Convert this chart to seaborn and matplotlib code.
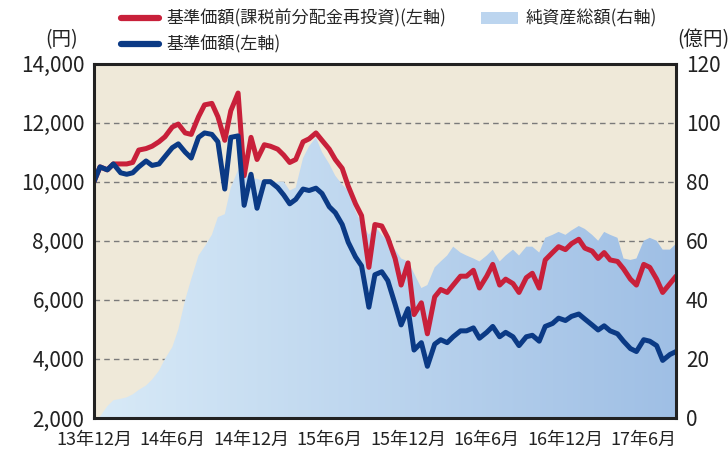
import numpy as np
import pandas as pd
import matplotlib
matplotlib.use("Agg")
import matplotlib.pyplot as plt
import matplotlib.dates as mdates
from matplotlib.colors import LinearSegmentedColormap
from matplotlib.lines import Line2D
from matplotlib.patches import Patch
from matplotlib.ticker import FuncFormatter
import seaborn as sns

# semi-monthly observations (1st and 15th), Dec 2013 - Aug 2017
dates = pd.date_range("2013-12-01", "2017-08-15", freq="SMS")

# 基準価額(課税前分配金再投資), 円
nav_reinvested = [
    10000, 10500, 10400, 10600, 10600, 10600, 10650, 11070, 11120, 11200,
    11350, 11520, 11850, 11950, 11650, 11600, 12200, 12600, 12650, 12200,
    11400, 12400, 13000, 10200, 11500, 10750, 11250, 11200, 11100, 10900,
    10650, 10750, 11350, 11450, 11650, 11400, 11100, 10750, 10450, 9850,
    9250, 8850, 7100, 8550, 8500, 8100, 7400, 6500, 7250, 5500,
    5900, 4850, 6100, 6350, 6250, 6500, 6800, 6800, 7000, 6400,
    6800, 7200, 6500, 6700, 6550, 6250, 6750, 6900, 6400, 7350,
    7600, 7800, 7700, 7900, 8050, 7750, 7650, 7400, 7600, 7350,
    7300, 7050, 6700, 6500, 7200, 7100, 6700, 6250, 6550, 6800,
]

# 基準価額, 円
nav = [
    10000, 10500, 10400, 10600, 10300, 10250, 10300, 10500, 10700, 10550,
    10600, 10850, 11150, 11280, 11000, 10800, 11500, 11650, 11600, 11350,
    9750, 11500, 11550, 9200, 10250, 9100, 10000, 10000, 9800, 9550,
    9250, 9400, 9750, 9700, 9780, 9600, 9150, 8950, 8550, 7950,
    7450, 7150, 5750, 6850, 6950, 6650, 5850, 5150, 5700, 4300,
    4550, 3750, 4500, 4650, 4550, 4750, 4950, 4950, 5050, 4700,
    4900, 5100, 4750, 4900, 4750, 4450, 4750, 4800, 4600, 5100,
    5200, 5380, 5300, 5440, 5520, 5350, 5150, 4980, 5120, 4950,
    4850, 4600, 4350, 4250, 4650, 4600, 4450, 3950, 4150, 4250,
]

# 純資産総額, 億円
aum = [
    0, 0.5, 4, 6, 6.5, 7, 8, 9.5, 11, 13,
    16, 20, 24, 30, 40, 47, 55, 58, 62, 68,
    69, 78, 84, 83, 81, 81, 80, 79, 80, 80,
    77, 78, 88, 92, 95, 90, 86, 82, 79, 77,
    70, 66, 62, 65, 62, 60, 57, 54, 53, 49,
    44, 45, 51, 53, 55, 58, 56, 55, 54, 53,
    55, 57, 53, 55, 57, 55, 58, 58, 56, 61,
    62, 63, 62, 63.5, 65, 64, 62, 60, 63, 62,
    61, 54, 53.5, 54, 60, 61, 60, 57, 57, 59,
]

tick_dates = pd.date_range("2013-12-01", "2017-06-01", freq="6MS")
tick_labels = ["13年12月", "14年6月", "14年12月", "15年6月",
               "15年12月", "16年6月", "16年12月", "17年6月"]

df = pd.DataFrame({
    "date": dates,
    "nav_reinvested": nav_reinvested,
    "nav": nav,
    "aum": aum,
})

RED = "#c8203a"
NAVY = "#0b3a85"
BEIGE = "#efe9d9"

sns.set_style("white")
plt.rcParams["font.family"] = ["Noto Sans CJK JP", "DejaVu Sans"]

fig = plt.figure(figsize=(7.28, 4.55), dpi=100)
ax = fig.add_axes([94 / 728, 37 / 455, 582 / 728, 354.5 / 455])
ax2 = ax.twinx()

# lines sit on top, the AUM area + background underneath
ax.set_zorder(2)
ax2.set_zorder(1)
ax.patch.set_visible(False)
ax2.patch.set_visible(True)
ax2.set_facecolor(BEIGE)

# dashed grid (shared positions for both scales)
for y in [20, 40, 60, 80, 100]:
    ax2.axhline(y, color="#7a7a7a", lw=1.0, ls=(0, (4, 3)), zorder=0.5)

# gradient-filled AUM area
xnum = mdates.date2num(df["date"])
area = ax2.fill_between(df["date"], 0, df["aum"], color="none", lw=0)
cmap = LinearSegmentedColormap.from_list("aum", ["#d8eaf7", "#9fbfe5"])
img = ax2.imshow(np.linspace(0, 1, 256).reshape(1, -1), cmap=cmap,
                 aspect="auto", extent=[xnum[0], xnum[-1], 0, 120],
                 origin="lower", zorder=1)
img.set_clip_path(area.get_paths()[0], transform=ax2.transData)

sns.lineplot(data=df, x="date", y="nav_reinvested", color=RED, lw=3.6, ax=ax)
sns.lineplot(data=df, x="date", y="nav", color=NAVY, lw=3.6, ax=ax)

ax.set_xlim(dates[0], dates[-1])
ax.set_ylim(2000, 14000)
ax2.set_ylim(0, 120)
ax.set_xlabel("")
ax.set_ylabel("")

ax.set_yticks(range(2000, 14001, 2000))
ax.yaxis.set_major_formatter(FuncFormatter(lambda v, p: f"{int(v):,}"))
ax2.set_yticks(range(0, 121, 20))
ax.tick_params(axis="y", length=0, pad=7, labelsize=15, labelcolor="#222")
ax2.tick_params(axis="y", length=0, pad=7, labelsize=15, labelcolor="#222")

ax.set_xticks(tick_dates)
ax.set_xticklabels(tick_labels)
ax.tick_params(axis="x", direction="in", length=5, width=1, color="#555",
               pad=9, labelsize=13, labelcolor="#222")

for s in ax.spines.values():
    s.set_linewidth(2.2)
    s.set_color("#222")
for s in ax2.spines.values():
    s.set_visible(False)

fig.text(62 / 728, 1 - 40 / 455, "(円)", ha="center", va="center", fontsize=14, color="#222")
fig.text(703 / 728, 1 - 40 / 455, "(億円)", ha="center", va="center", fontsize=14, color="#222")

handles = [
    Line2D([], [], color=RED, lw=4.5),
    Line2D([], [], color=NAVY, lw=4.5),
    Patch(facecolor="#bcd5ef", edgecolor="none"),
]
labels = ["基準価額(課税前分配金再投資)(左軸)", "基準価額(左軸)", "純資産総額(右軸)"]
fig.legend(handles, labels, ncol=2, loc="upper left",
           bbox_to_anchor=(112 / 728, 1.0), frameon=False, fontsize=12.3,
           handlelength=2.2, handletextpad=0.45, columnspacing=2.0,
           labelspacing=0.45, borderaxespad=0.15)

fig.savefig("out.png", dpi=100)
